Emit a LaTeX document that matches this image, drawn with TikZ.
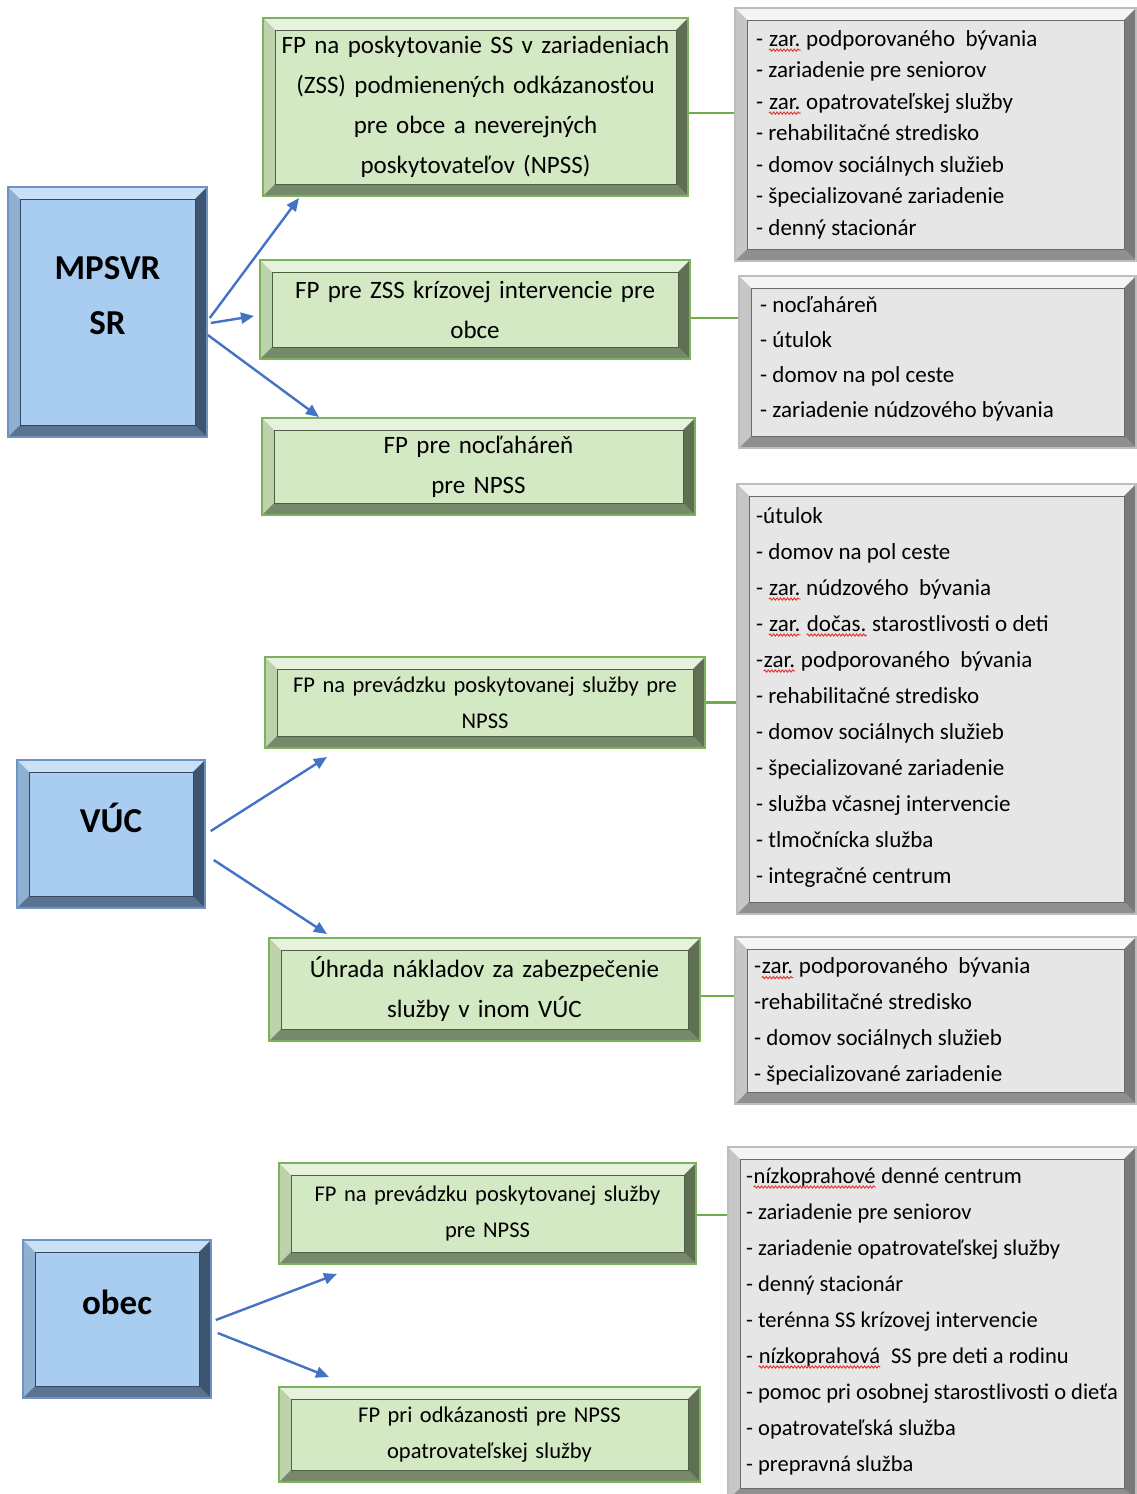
\documentclass[tikz,border=0pt]{standalone}
\usepackage{fontspec}
\setmainfont{Carlito}
\usetikzlibrary{arrows.meta,decorations.pathmorphing}

\definecolor{grnfill}{HTML}{D3E9C4}
\definecolor{grnborder}{HTML}{7CB35A}
\definecolor{grntop}{HTML}{E7F2DE}
\definecolor{grnleft}{HTML}{BCD2AD}
\definecolor{grnright}{HTML}{5F7052}
\definecolor{grnbot}{HTML}{77896B}
\definecolor{grnline}{HTML}{4F5F45}
\definecolor{blufill}{HTML}{A8CDF0}
\definecolor{bluborder}{HTML}{6C93C4}
\definecolor{blutop}{HTML}{C9E0F6}
\definecolor{bluleft}{HTML}{8FB0D0}
\definecolor{bluright}{HTML}{3E5570}
\definecolor{blubot}{HTML}{5A7390}
\definecolor{bluline}{HTML}{34495F}
\definecolor{gryfill}{HTML}{E6E6E6}
\definecolor{gryborder}{HTML}{BDBDBD}
\definecolor{grytop}{HTML}{F4F4F4}
\definecolor{gryleft}{HTML}{C6C6C6}
\definecolor{gryright}{HTML}{7A7A7A}
\definecolor{grybot}{HTML}{8F8F8F}
\definecolor{gryline}{HTML}{6A6A6A}
\definecolor{arrblue}{HTML}{4472C4}
\definecolor{linkgreen}{HTML}{70AD47}
\definecolor{spellred}{HTML}{E3302B}

\newcommand{\gbig}{\fontsize{25}{40}\selectfont}
\newcommand{\gsmall}{\fontsize{22.5}{36}\selectfont}
\newcommand{\lfont}{\fontsize{23}{36}\selectfont}
\newcommand{\spell}[1]{\tikz[baseline=(sp.base)]{\node[inner sep=0pt,anchor=base] (sp) {#1};
  \draw[spellred,line width=.9pt,decorate,decoration={snake,amplitude=1.1pt,segment length=3.5pt}]
    ([yshift=-4pt]sp.base west) -- ([yshift=-4pt]sp.base east);}}

\begin{document}
\begin{tikzpicture}[x=1pt, y=-1pt,
          bevel/.style = {path picture={
            \coordinate (bsw) at (path picture bounding box.south west);
            \coordinate (bne) at (path picture bounding box.north east);
            \coordinate (bnw) at (bsw |- bne);
            \coordinate (bse) at (bne |- bsw);
            \fill[#1top] (bnw) -- (bne) -- ([shift={(-12pt,-12pt)}]bne) -- ([shift={(12pt,-12pt)}]bnw) -- cycle;
            \fill[#1left] (bnw) -- (bsw) -- ([shift={(12pt,12pt)}]bsw) -- ([shift={(12pt,-12pt)}]bnw) -- cycle;
            \fill[#1bot] (bsw) -- (bse) -- ([shift={(-12pt,12pt)}]bse) -- ([shift={(12pt,12pt)}]bsw) -- cycle;
            \fill[#1right] (bse) -- (bne) -- ([shift={(-12pt,-12pt)}]bne) -- ([shift={(-12pt,12pt)}]bse) -- cycle;
            \draw[#1line, line width=.8pt] ([shift={(12pt,12pt)}]bsw) rectangle ([shift={(-12pt,-12pt)}]bne);}},
          bluebox/.style = {draw=bluborder, line width=1.5pt, fill=blufill, bevel=blu},
          headtxt/.style = {align=center, inner sep=0pt, font=\fontsize{35}{55}\selectfont\bfseries},
          gbox/.style = {draw=grnborder, line width=2pt, fill=grnfill, bevel=grn, align=center, inner xsep=4pt},
          listbox/.style = {draw=gryborder, line width=2pt, fill=gryfill, bevel=gry},
          listtxt/.style = {anchor=west, align=left, inner sep=0pt, font=\lfont},
          arr/.style = {draw=arrblue, line width=2.4pt, -{Triangle[length=13pt,width=11pt]}},
          link/.style = {draw=linkgreen, line width=2.6pt}]
        \useasboundingbox (0,0) rectangle (1137,1494);

        % blue boxes
        \node[bluebox, minimum width=199pt, minimum height=250pt] (mpsvr) at (107.5,312) {};
        \node[headtxt] (mpsvrtxt) at ([yshift=16pt]mpsvr.center) {MPSVR\\SR};
        \node[bluebox, minimum width=188pt, minimum height=148pt] (vuc) at (111,834) {};
        \node[headtxt] (vuctxt) at ([yshift=16pt]vuc.center) {VÚC};
        \node[bluebox, minimum width=188pt, minimum height=158pt] (obec) at (117,1319) {};
        \node[headtxt] (obectxt) at ([yshift=17pt]obec.center) {obec};

        % green boxes
        \node[gbox, font=\gbig, text width=417pt, minimum height=178pt] (g1) at (475.5,107)
             {FP na poskytovanie SS v zariadeniach\\(ZSS) podmienených odkázanosťou\\pre obce a neverejných\\poskytovateľov (NPSS)};
        \node[gbox, font=\gbig, text width=422pt, minimum height=99pt] (g2) at (475,309.5)
             {FP pre ZSS krízovej intervencie pre\\obce};
        \node[gbox, font=\gbig, text width=425pt, minimum height=97pt] (g3) at (478.5,466.5)
             {FP pre nocľaháreň\\pre NPSS};
        \node[gbox, font=\gsmall, text width=432pt, minimum height=91pt] (g4) at (485,702.5)
             {FP na prevádzku poskytovanej služby pre\\NPSS};
        \node[gbox, font=\gbig, text width=423pt, minimum height=103pt] (g5) at (484.5,989.5)
             {Úhrada nákladov za zabezpečenie\\služby v inom VÚC};
        \node[gbox, font=\gsmall, text width=409pt, minimum height=101pt] (g6) at (487.5,1213.5)
             {FP na prevádzku poskytovanej služby\\pre NPSS};
        \node[gbox, font=\gsmall, text width=413pt, minimum height=95pt] (g7) at (489.5,1434.5)
             {FP pri odkázanosti pre NPSS\\opatrovateľskej služby};

        % lists
        \node[listbox, minimum width=401pt, minimum height=253pt] (l1) at (935.5,134.5) {};
        \node[listtxt, font=\fontsize{23}{31.5}\selectfont] (l1txt) at ([xshift=22pt]l1.west)
             {- \spell{zar.} podporovaného~ bývania\\- zariadenie pre seniorov\\- \spell{zar.} opatrovateľskej služby\\- rehabilitačné stredisko\\- domov sociálnych služieb\\- špecializované zariadenie\\- denný stacionár};
        \node[listbox, minimum width=397pt, minimum height=172pt] (l2) at (937.5,362) {};
        \node[listtxt, font=\fontsize{23}{35}\selectfont] (l2txt) at ([xshift=22pt,yshift=3pt]l2.west)
             {- nocľaháreň\\- útulok\\- domov na pol ceste\\- zariadenie núdzového bývania};
        \node[listbox, minimum width=399pt, minimum height=430pt] (l3) at (936.5,699) {};
        \node[listtxt] (l3txt) at ([xshift=20pt,yshift=2pt]l3.west)
             {-útulok\\- domov na pol ceste\\- \spell{zar.} núdzového~ bývania\\- \spell{zar.} \spell{dočas.} starostlivosti o deti\\-\spell{zar.} podporovaného~ bývania\\- rehabilitačné stredisko\\- domov sociálnych služieb\\- špecializované zariadenie\\- služba včasnej intervencie\\- tlmočnícka služba\\- integračné centrum};
        \node[listbox, minimum width=401pt, minimum height=167pt] (l4) at (935.5,1020.5) {};
        \node[listtxt] (l4txt) at ([xshift=20pt,yshift=-1pt]l4.west)
             {-\spell{zar.} podporovaného~ bývania\\-rehabilitačné stredisko\\- domov sociálnych služieb\\- špecializované zariadenie};
        \node[listbox, minimum width=408pt, minimum height=353pt] (l5) at (932,1323.5) {};
        \node[listtxt, font=\fontsize{22.5}{36}\selectfont] (l5txt) at ([xshift=19pt,yshift=2.5pt]l5.west)
             {-\spell{nízkoprahové} denné centrum\\- zariadenie pre seniorov\\- zariadenie opatrovateľskej služby\\- denný stacionár\\- terénna SS krízovej intervencie\\- \spell{nízkoprahová}~ SS pre deti a rodinu\\- pomoc pri osobnej starostlivosti o dieťa\\- opatrovateľská služba\\- prepravná služba};

        % arrows
        \draw[arr] ([shift={(2pt,-6pt)}]mpsvr.east) -- ([shift={(37pt,-1pt)}]g1.south west);
        \draw[arr] ([shift={(3pt,-11pt)}]mpsvr.east) -- ([shift={(-5pt,-6.5pt)}]g2.west);
        \draw[arr] ([shift={(0pt,-23pt)}]mpsvr.east) -- ([shift={(58pt,0pt)}]g3.north west);
        \draw[arr] ([shift={(5pt,3pt)}]vuc.east) -- ([shift={(63pt,-8pt)}]g4.south west);
        \draw[arr] ([shift={(8pt,-26pt)}]vuc.east) -- ([shift={(59pt,3pt)}]g5.north west);
        \draw[arr] ([shift={(4pt,-1pt)}]obec.east) -- ([shift={(59pt,-9pt)}]g6.south west);
        \draw[arr] ([shift={(6pt,-14pt)}]obec.east) -- ([shift={(51pt,9pt)}]g7.north west);

        % links to lists
        \foreach \g/\l/\dy in {g1/l1/-6, g2/l2/-8.5, g4/l3/0, g5/l4/-6.5, g6/l5/-1.5}
                 {
                   \draw[link] ([yshift=\dy pt]\g.east) -- ([yshift=\dy pt]\g.east -| \l.west);
                 }
\end{tikzpicture}
\end{document}
